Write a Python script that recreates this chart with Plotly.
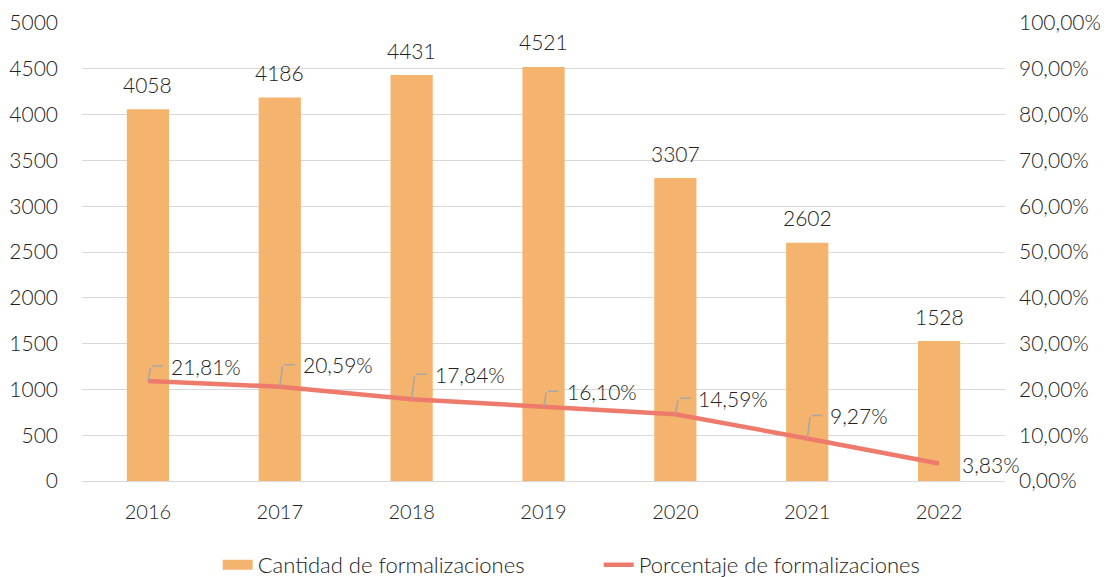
import plotly.graph_objects as go

years = ["2016", "2017", "2018", "2019", "2020", "2021", "2022"]
cantidad = [4058, 4186, 4431, 4521, 3307, 2602, 1528]
porcentaje = [0.2181, 0.2059, 0.1784, 0.1610, 0.1459, 0.0927, 0.0383]
pct_labels = ["21,81%", "20,59%", "17,84%", "16,10%", "14,59%", "9,27%", "3,83%"]

# label vertical offsets (pixels) for the percentage labels
label_dy = [15, 22, 25, 16, 16, 23, 0]

BAR = "#F4B46E"
LINE = "#EE7A6C"
GRID = "#D9D9D9"
TXT = "#222222"
FONT = "Lato"
W = 300

def f(size=21):
    return dict(size=size, color=TXT, family=FONT, weight=W)

fig = go.Figure()
fig.add_trace(go.Bar(x=years, y=cantidad, name="Cantidad de formalizaciones",
                     marker=dict(color=BAR, line=dict(width=0)), width=0.32, yaxis="y",
                     showlegend=False))
# legend proxy for the bar series (wide rectangle swatch)
fig.add_trace(go.Scatter(x=[None], y=[None], name="Cantidad de formalizaciones",
                         mode="lines", line=dict(color=BAR, width=14), yaxis="y"))
fig.add_trace(go.Scatter(x=years, y=porcentaje, name="Porcentaje de formalizaciones",
                         mode="lines", line=dict(color=LINE, width=4.5), yaxis="y2"))

ann = []
for i, v in enumerate(cantidad):
    ann.append(dict(x=i, y=v, xref="x", yref="y", text=str(v), showarrow=False,
                    yanchor="middle", yshift=25, font=f(21)))

for i, (p, t, dy) in enumerate(zip(porcentaje, pct_labels, label_dy)):
    if dy == 0:
        ann.append(dict(x=i, y=p, xref="x", yref="y2", text=t, showarrow=False,
                        xanchor="left", yanchor="middle", xshift=21, yshift=-1, font=f()))
        continue
    ann.append(dict(x=i, y=p, xref="x", yref="y2", text=t, showarrow=False,
                    xanchor="left", yanchor="middle", xshift=21, yshift=dy, font=f()))
    # vertical leader segment
    ann.append(dict(x=i, y=p, xref="x", yref="y2", text="", showarrow=True,
                    arrowhead=0, arrowwidth=1.5, arrowcolor="#A6A6A6",
                    ax=3, ay=-dy, standoff=0, startstandoff=0))
    # horizontal leader segment
    ann.append(dict(x=i, y=p, xref="x", yref="y2", text="", showarrow=True,
                    arrowhead=0, arrowwidth=1.5, arrowcolor="#A6A6A6",
                    xshift=15, yshift=dy, ax=-12, ay=0, standoff=0, startstandoff=0))

fig.update_layout(
    width=1116, height=577,
    margin=dict(l=82, r=111, t=23, b=96),
    paper_bgcolor="white", plot_bgcolor="white",
    separators=",.",
    font=f(),
    xaxis=dict(type="category", range=[-0.5, 6.5], autorange=False, automargin=False,
               showgrid=False, showline=True, linecolor=GRID, linewidth=1,
               ticks="", tickfont=f(20), ticklabelstandoff=13),
    yaxis=dict(range=[0, 5000], autorange=False, automargin=False, dtick=500,
               showgrid=True, gridcolor=GRID, gridwidth=1,
               zeroline=False, showline=False, ticks="",
               tickfont=f(21), ticklabelstandoff=23),
    yaxis2=dict(range=[0, 1], autorange=False, automargin=False, dtick=0.1,
                tickformat=".2%", overlaying="y", side="right",
                showgrid=False, zeroline=False, showline=False, ticks="",
                tickfont=f(21), ticklabelstandoff=13),
    legend=dict(orientation="h", x=0.147, xanchor="left", xref="paper",
                y=12 / 577, yanchor="middle", yref="container",
                font=f(22), entrywidth=336, entrywidthmode="pixels", itemwidth=30),
    annotations=ann,
    showlegend=True,
)

fig.write_html("out.html", config={"displayModeBar": False},
               post_script="document.body.style.margin='0px';")
